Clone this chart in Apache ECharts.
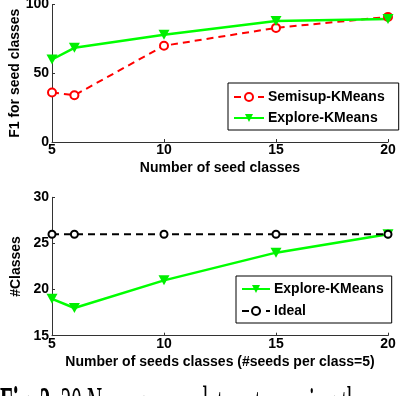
<!DOCTYPE html>
<html>
<head>
<meta charset="utf-8">
<script src="https://cdn.jsdelivr.net/npm/echarts@6/dist/echarts.min.js"></script>
<style>
html,body{margin:0;padding:0;background:#fff;}
#c{width:408px;height:396px;}
</style>
</head>
<body>
<div id="c"></div>
<script>
// ---- data ----
var seedClasses = [5, 6, 10, 15, 20];
var semisupF1 = [36, 34, 70, 83, 91];
var exploreF1 = [60, 68.5, 78, 88, 89.5];
var exploreClasses = [19, 18, 21, 24, 26];
var idealClasses = [26, 26, 26, 26, 26];
var xTicks = [5, 10, 15, 20];
var topYTicks = [0, 50, 100];
var bottomYTicks = [15, 20, 25, 30];

function pairs(xs, ys) { return xs.map(function (x, i) { return [x, ys[i]]; }); }

var FONT = "'Liberation Sans', Arial, Helvetica, sans-serif";
var FS = 14;
var AX = '#333333';
var TRI = 'path://M0,0L10,0L5,9Z';

function xAxis(gridIndex, name) {
  return {
    type: 'value', gridIndex: gridIndex,
    min: xTicks[0], max: xTicks[xTicks.length - 1], interval: xTicks[1] - xTicks[0],
    name: name, nameLocation: 'middle', nameGap: 19, nameMoveOverlap: false,
    nameTextStyle: {fontFamily: FONT, fontWeight: 'bold', fontSize: FS, color: '#000'},
    axisLine: {show: true, lineStyle: {color: AX, width: 1}},
    axisTick: {show: true, inside: true, length: 3, lineStyle: {color: AX}},
    axisLabel: {fontFamily: FONT, fontWeight: 'bold', fontSize: FS, color: '#000', margin: 1},
    splitLine: {show: false}
  };
}
function yAxis(gridIndex, ticks, name, gap) {
  return {
    type: 'value', gridIndex: gridIndex,
    min: ticks[0], max: ticks[ticks.length - 1], interval: ticks[1] - ticks[0],
    name: name, nameLocation: 'middle', nameGap: gap, nameMoveOverlap: false,
    nameTextStyle: {fontFamily: FONT, fontWeight: 'bold', fontSize: FS, color: '#000'},
    axisLine: {show: true, lineStyle: {color: AX, width: 1}},
    axisTick: {show: true, inside: true, length: 3, lineStyle: {color: AX}},
    axisLabel: {fontFamily: FONT, fontWeight: 'bold', fontSize: FS, color: '#000', margin: 3},
    splitLine: {show: false}
  };
}

var chart = echarts.init(document.getElementById('c'), null, {renderer: 'canvas'});
chart.setOption({
  animation: false,
  backgroundColor: '#fff',
  grid: [
    {left: 52, top: 4.5, width: 336, height: 137.5, containLabel: false, outerBoundsMode: 'none'},
    {left: 52, top: 197.3, width: 336, height: 138.4, containLabel: false, outerBoundsMode: 'none'}
  ],
  xAxis: [xAxis(0, 'Number of seed classes'), xAxis(1, 'Number of seeds classes (#seeds per class=5)')],
  yAxis: [yAxis(0, topYTicks, 'F1 for seed classes', 30), yAxis(1, bottomYTicks, '#Classes', 29)],
  legend: [
    {
      data: ['Semisup-KMeans', 'Explore-KMeans'],
      orient: 'vertical', left: 228, top: 83,
      itemWidth: 30, itemHeight: 10, itemGap: 7,
      padding: [7, 14, 5, 5],
      borderColor: '#000', borderWidth: 1, borderRadius: 0,
      backgroundColor: '#fff',
      textStyle: {fontFamily: FONT, fontWeight: 'bold', fontSize: FS, color: '#000', padding: [0, 0, 0, -1]},
      selectedMode: false
    },
    {
      data: ['Explore-KMeans', 'Ideal'],
      orient: 'vertical', left: 236, top: 276,
      itemWidth: 28, itemHeight: 10, itemGap: 8,
      padding: [6, 8, 5, 5],
      borderColor: '#000', borderWidth: 1, borderRadius: 0,
      backgroundColor: '#fff',
      textStyle: {fontFamily: FONT, fontWeight: 'bold', fontSize: FS, color: '#000', padding: [0, 0, 0, -1]},
      selectedMode: false
    }
  ],
  series: [
    {
      name: 'Semisup-KMeans', type: 'line', xAxisIndex: 0, yAxisIndex: 0,
      data: pairs(seedClasses, semisupF1),
      lineStyle: {color: '#ff0000', width: 2, type: [7, 5]},
      symbol: 'emptyCircle', symbolSize: 8,
      itemStyle: {color: '#ff0000', borderColor: '#ff0000', borderWidth: 2}
    },
    {
      name: 'Explore-KMeans', type: 'line', xAxisIndex: 0, yAxisIndex: 0,
      data: pairs(seedClasses, exploreF1),
      lineStyle: {color: '#00ff00', width: 2.5, type: 'solid'},
      symbol: TRI, symbolSize: [11, 10], symbolKeepAspect: false,
      itemStyle: {color: '#00ee00', borderColor: '#00ee00', borderWidth: 0}
    },
    {
      name: 'Explore-KMeans', type: 'line', xAxisIndex: 1, yAxisIndex: 1,
      data: pairs(seedClasses, exploreClasses),
      lineStyle: {color: '#00ff00', width: 2.5, type: 'solid'},
      symbol: TRI, symbolSize: [11, 10], symbolKeepAspect: false,
      itemStyle: {color: '#00ee00', borderColor: '#00ee00', borderWidth: 0}
    },
    {
      name: 'Ideal', type: 'line', xAxisIndex: 1, yAxisIndex: 1,
      data: pairs(seedClasses, idealClasses),
      lineStyle: {color: '#000', width: 2, type: [7, 5]},
      symbol: 'emptyCircle', symbolSize: 7,
      itemStyle: {color: '#000', borderColor: '#000', borderWidth: 2}
    }
  ],
  graphic: [
    {
      type: 'text', x: 0, y: 383.5, scaleY: 2.3, z: 10,
      style: {
        text: '{b|Fig. 2.} 20 Newsgroups data set: varying the',
        font: "21px 'Liberation Serif', 'Times New Roman', serif",
        fill: '#000',
        rich: {b: {fontWeight: 'bold', fontFamily: "'Liberation Serif', 'Times New Roman', serif", fontSize: 21}}
      }
    }
  ]
});
</script>
</body>
</html>
